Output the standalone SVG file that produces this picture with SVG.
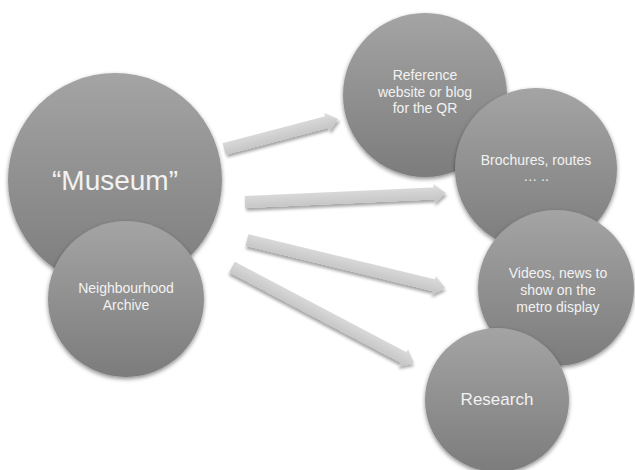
<svg xmlns="http://www.w3.org/2000/svg" width="635" height="470" viewBox="0 0 635 470">
  <defs>
    <linearGradient id="gCircle" x1="0" y1="0" x2="0" y2="1">
      <stop offset="0" stop-color="#a4a4a4"/>
      <stop offset="1" stop-color="#7c7c7c"/>
    </linearGradient>
    <linearGradient id="gArrow" x1="0" y1="0" x2="0" y2="1">
      <stop offset="0" stop-color="#dedede"/>
      <stop offset="1" stop-color="#c2c2c2"/>
    </linearGradient>
    <filter id="fCircle" x="-20%" y="-20%" width="140%" height="140%">
      <feDropShadow dx="0" dy="2" stdDeviation="2" flood-color="#000" flood-opacity="0.45"/>
    </filter>
    <filter id="fArrow" x="-10%" y="-80%" width="120%" height="260%">
      <feDropShadow dx="1" dy="3" stdDeviation="1.6" flood-color="#000" flood-opacity="0.35"/>
    </filter>
  </defs>
  <style>
    .node circle { fill: url(#gCircle); filter: url(#fCircle); }
    .arrow { fill: url(#gArrow); filter: url(#fArrow); }
    text { font-family: "Liberation Sans", Arial, sans-serif; fill: #f2f2f2; text-anchor: middle; }
    .t14 { font-size: 14px; }
  </style>
  <rect width="635" height="470" fill="#ffffff"/>

  <g id="connectors">
    <path class="arrow" transform="translate(224,149) rotate(-14.7)" d="M0,-6 L106,-6 L106,-9.5 L118,0 L106,9.5 L106,6 L0,6 Z"/>
    <path class="arrow" transform="translate(245,202) rotate(-2.6)" d="M0,-6 L189,-6 L189,-9.5 L201,0 L189,9.5 L189,6 L0,6 Z"/>
    <path class="arrow" transform="translate(247,240) rotate(13.6)" d="M0,-6 L192,-6 L192,-9.5 L204,0 L192,9.5 L192,6 L0,6 Z"/>
    <path class="arrow" transform="translate(232,267) rotate(27.8)" d="M0,-6 L194,-6 L194,-9.5 L206,0 L194,9.5 L194,6 L0,6 Z"/>
  </g>

  <g id="museum" class="node">
    <circle cx="115" cy="180" r="107"/>
    <text x="115" y="190" style="font-size:28px">“Museum”</text>
  </g>
  <g id="archive" class="node">
    <circle cx="126" cy="299" r="78"/>
    <text class="t14" x="126" y="293">Neighbourhood</text>
    <text class="t14" x="126" y="310">Archive</text>
  </g>

  <g id="reference" class="node">
    <circle cx="425" cy="95" r="82"/>
    <text class="t14" x="425" y="80">Reference</text>
    <text class="t14" x="425" y="97">website or blog</text>
    <text class="t14" x="425" y="113">for the QR</text>
  </g>
  <g id="brochures" class="node">
    <circle cx="536" cy="169" r="81"/>
    <text class="t14" x="536" y="165">Brochures, routes</text>
    <text class="t14" x="536" y="181">… ..</text>
  </g>
  <g id="videos" class="node">
    <circle cx="556" cy="288" r="78"/>
    <text class="t14" x="558" y="278">Videos, news to</text>
    <text class="t14" x="558" y="295">show on the</text>
    <text class="t14" x="558" y="312">metro display</text>
  </g>
  <g id="research" class="node">
    <circle cx="497" cy="400" r="72"/>
    <text x="497" y="405" style="font-size:17px">Research</text>
  </g>
</svg>
